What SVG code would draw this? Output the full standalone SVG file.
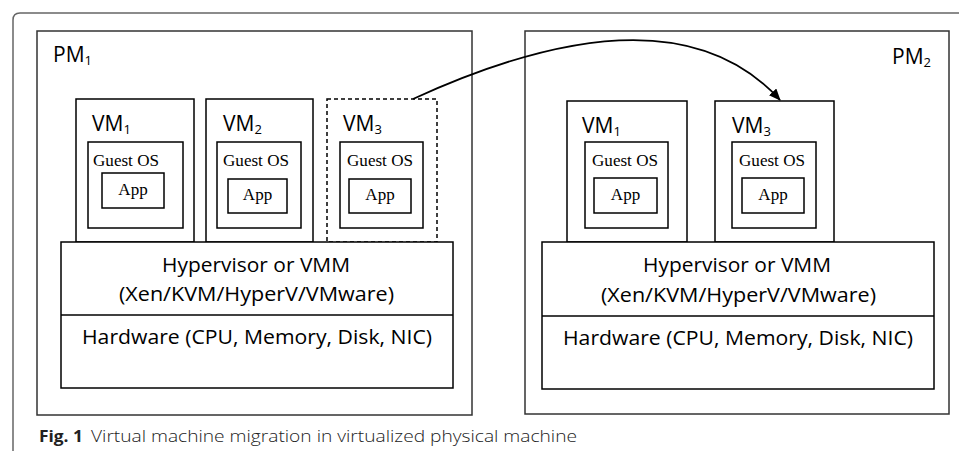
<svg xmlns="http://www.w3.org/2000/svg" width="959" height="451" viewBox="0 0 959 451">
<defs>
<style>
.box{fill:#fff;stroke:#000;stroke-width:1.5}
.dash{fill:#fff;stroke:#000;stroke-width:1.5;stroke-dasharray:4 3}
.pm{fill:#fff;stroke:#333;stroke-width:1.5}
.sans{font-family:"Open Sans","Liberation Sans",sans-serif;fill:#000}
.lbl{font-size:21px}
.sub{font-size:13px}
.serif{font-family:"Liberation Serif","Times New Roman",serif;fill:#000;font-size:17px}
.hv{font-size:20.5px;text-anchor:middle}
.cap{font-family:"Open Sans","Liberation Sans",sans-serif;font-size:16px;fill:#222}
</style>
<marker id="ah" markerWidth="12" markerHeight="10" refX="11" refY="5" orient="auto" markerUnits="userSpaceOnUse">
<path d="M0,0 L12,5 L0,10 z" fill="#000"/>
</marker>
</defs>
<rect width="959" height="451" fill="#fff"/>
<path d="M13,451 V20 Q13,13 20,13 H959" fill="none" stroke="#666" stroke-width="1.5"/>

<g id="pm1">
<rect class="pm" x="37" y="31" width="435" height="384"/>
<text class="sans lbl" x="53" y="62">PM<tspan class="sub" dy="3">1</tspan></text>
</g>
<g id="pm2">
<rect class="pm" x="525" y="31" width="424" height="383"/>
<text class="sans lbl" x="892" y="64">PM<tspan class="sub" dy="3">2</tspan></text>
</g>

<g id="pm1-vm1">
<rect class="box" x="76" y="99" width="118" height="143"/>
<text class="sans lbl" x="92" y="131">VM<tspan class="sub" dy="3">1</tspan></text>
<rect class="box" x="88" y="142" width="95" height="86"/>
<text class="serif" x="93" y="166" textLength="66" lengthAdjust="spacingAndGlyphs">Guest OS</text>
<rect class="box" x="102" y="173" width="62" height="35"/>
<text class="serif" x="133" y="195" text-anchor="middle">App</text>
</g>
<g id="pm1-vm2">
<rect class="box" x="206" y="99" width="107" height="143"/>
<text class="sans lbl" x="223" y="131">VM<tspan class="sub" dy="3">2</tspan></text>
<rect class="box" x="217" y="142" width="84" height="86"/>
<text class="serif" x="223" y="166" textLength="66" lengthAdjust="spacingAndGlyphs">Guest OS</text>
<rect class="box" x="228" y="179" width="59" height="34"/>
<text class="serif" x="257.5" y="200" text-anchor="middle">App</text>
</g>
<g id="pm1-vm3">
<rect class="dash" x="327" y="99" width="110" height="143"/>
<text class="sans lbl" x="343" y="131">VM<tspan class="sub" dy="3">3</tspan></text>
<rect class="box" x="340" y="142" width="83" height="86"/>
<text class="serif" x="347" y="166" textLength="66" lengthAdjust="spacingAndGlyphs">Guest OS</text>
<rect class="box" x="349" y="179" width="62" height="34"/>
<text class="serif" x="380" y="200" text-anchor="middle">App</text>
</g>
<g id="pm1-hv">
<rect class="box" x="61" y="242" width="392" height="146"/>
<line x1="61" y1="315" x2="453" y2="315" stroke="#000" stroke-width="1.5"/>
<text class="sans hv" x="256" y="272" textLength="188" lengthAdjust="spacingAndGlyphs">Hypervisor or VMM</text>
<text class="sans hv" x="256.5" y="301" textLength="275" lengthAdjust="spacingAndGlyphs">(Xen/KVM/HyperV/VMware)</text>
<text class="sans hv" x="257" y="344" textLength="350" lengthAdjust="spacingAndGlyphs">Hardware (CPU, Memory, Disk, NIC)</text>
</g>

<g id="pm2-vm1">
<rect class="box" x="567" y="101" width="120" height="141"/>
<text class="sans lbl" x="582" y="133">VM<tspan class="sub" dy="3">1</tspan></text>
<rect class="box" x="585" y="142" width="83" height="86"/>
<text class="serif" x="592" y="166" textLength="66" lengthAdjust="spacingAndGlyphs">Guest OS</text>
<rect class="box" x="594" y="178" width="63" height="35"/>
<text class="serif" x="625.5" y="200" text-anchor="middle">App</text>
</g>
<g id="pm2-vm3">
<rect class="box" x="715" y="101" width="119" height="141"/>
<text class="sans lbl" x="732" y="133">VM<tspan class="sub" dy="3">3</tspan></text>
<rect class="box" x="732" y="142" width="84" height="86"/>
<text class="serif" x="739" y="166" textLength="66" lengthAdjust="spacingAndGlyphs">Guest OS</text>
<rect class="box" x="742" y="178" width="62" height="35"/>
<text class="serif" x="773" y="200" text-anchor="middle">App</text>
</g>
<g id="pm2-hv">
<rect class="box" x="542" y="242" width="392" height="147"/>
<line x1="542" y1="316" x2="934" y2="316" stroke="#000" stroke-width="1.5"/>
<text class="sans hv" x="737" y="272" textLength="188" lengthAdjust="spacingAndGlyphs">Hypervisor or VMM</text>
<text class="sans hv" x="738.5" y="302" textLength="275" lengthAdjust="spacingAndGlyphs">(Xen/KVM/HyperV/VMware)</text>
<text class="sans hv" x="738" y="345" textLength="350" lengthAdjust="spacingAndGlyphs">Hardware (CPU, Memory, Disk, NIC)</text>
</g>

<g id="connectors">
<path d="M413,99 C590,18 710,23 780,100" fill="none" stroke="#000" stroke-width="1.8" marker-end="url(#ah)"/>
</g>

<g id="caption">
<text class="cap" x="39" y="442" font-weight="bold" textLength="44" lengthAdjust="spacingAndGlyphs">Fig. 1</text>
<text class="cap" x="91" y="442" font-weight="300" textLength="486" lengthAdjust="spacingAndGlyphs">Virtual machine migration in virtualized physical machine</text>
</g>
</svg>
